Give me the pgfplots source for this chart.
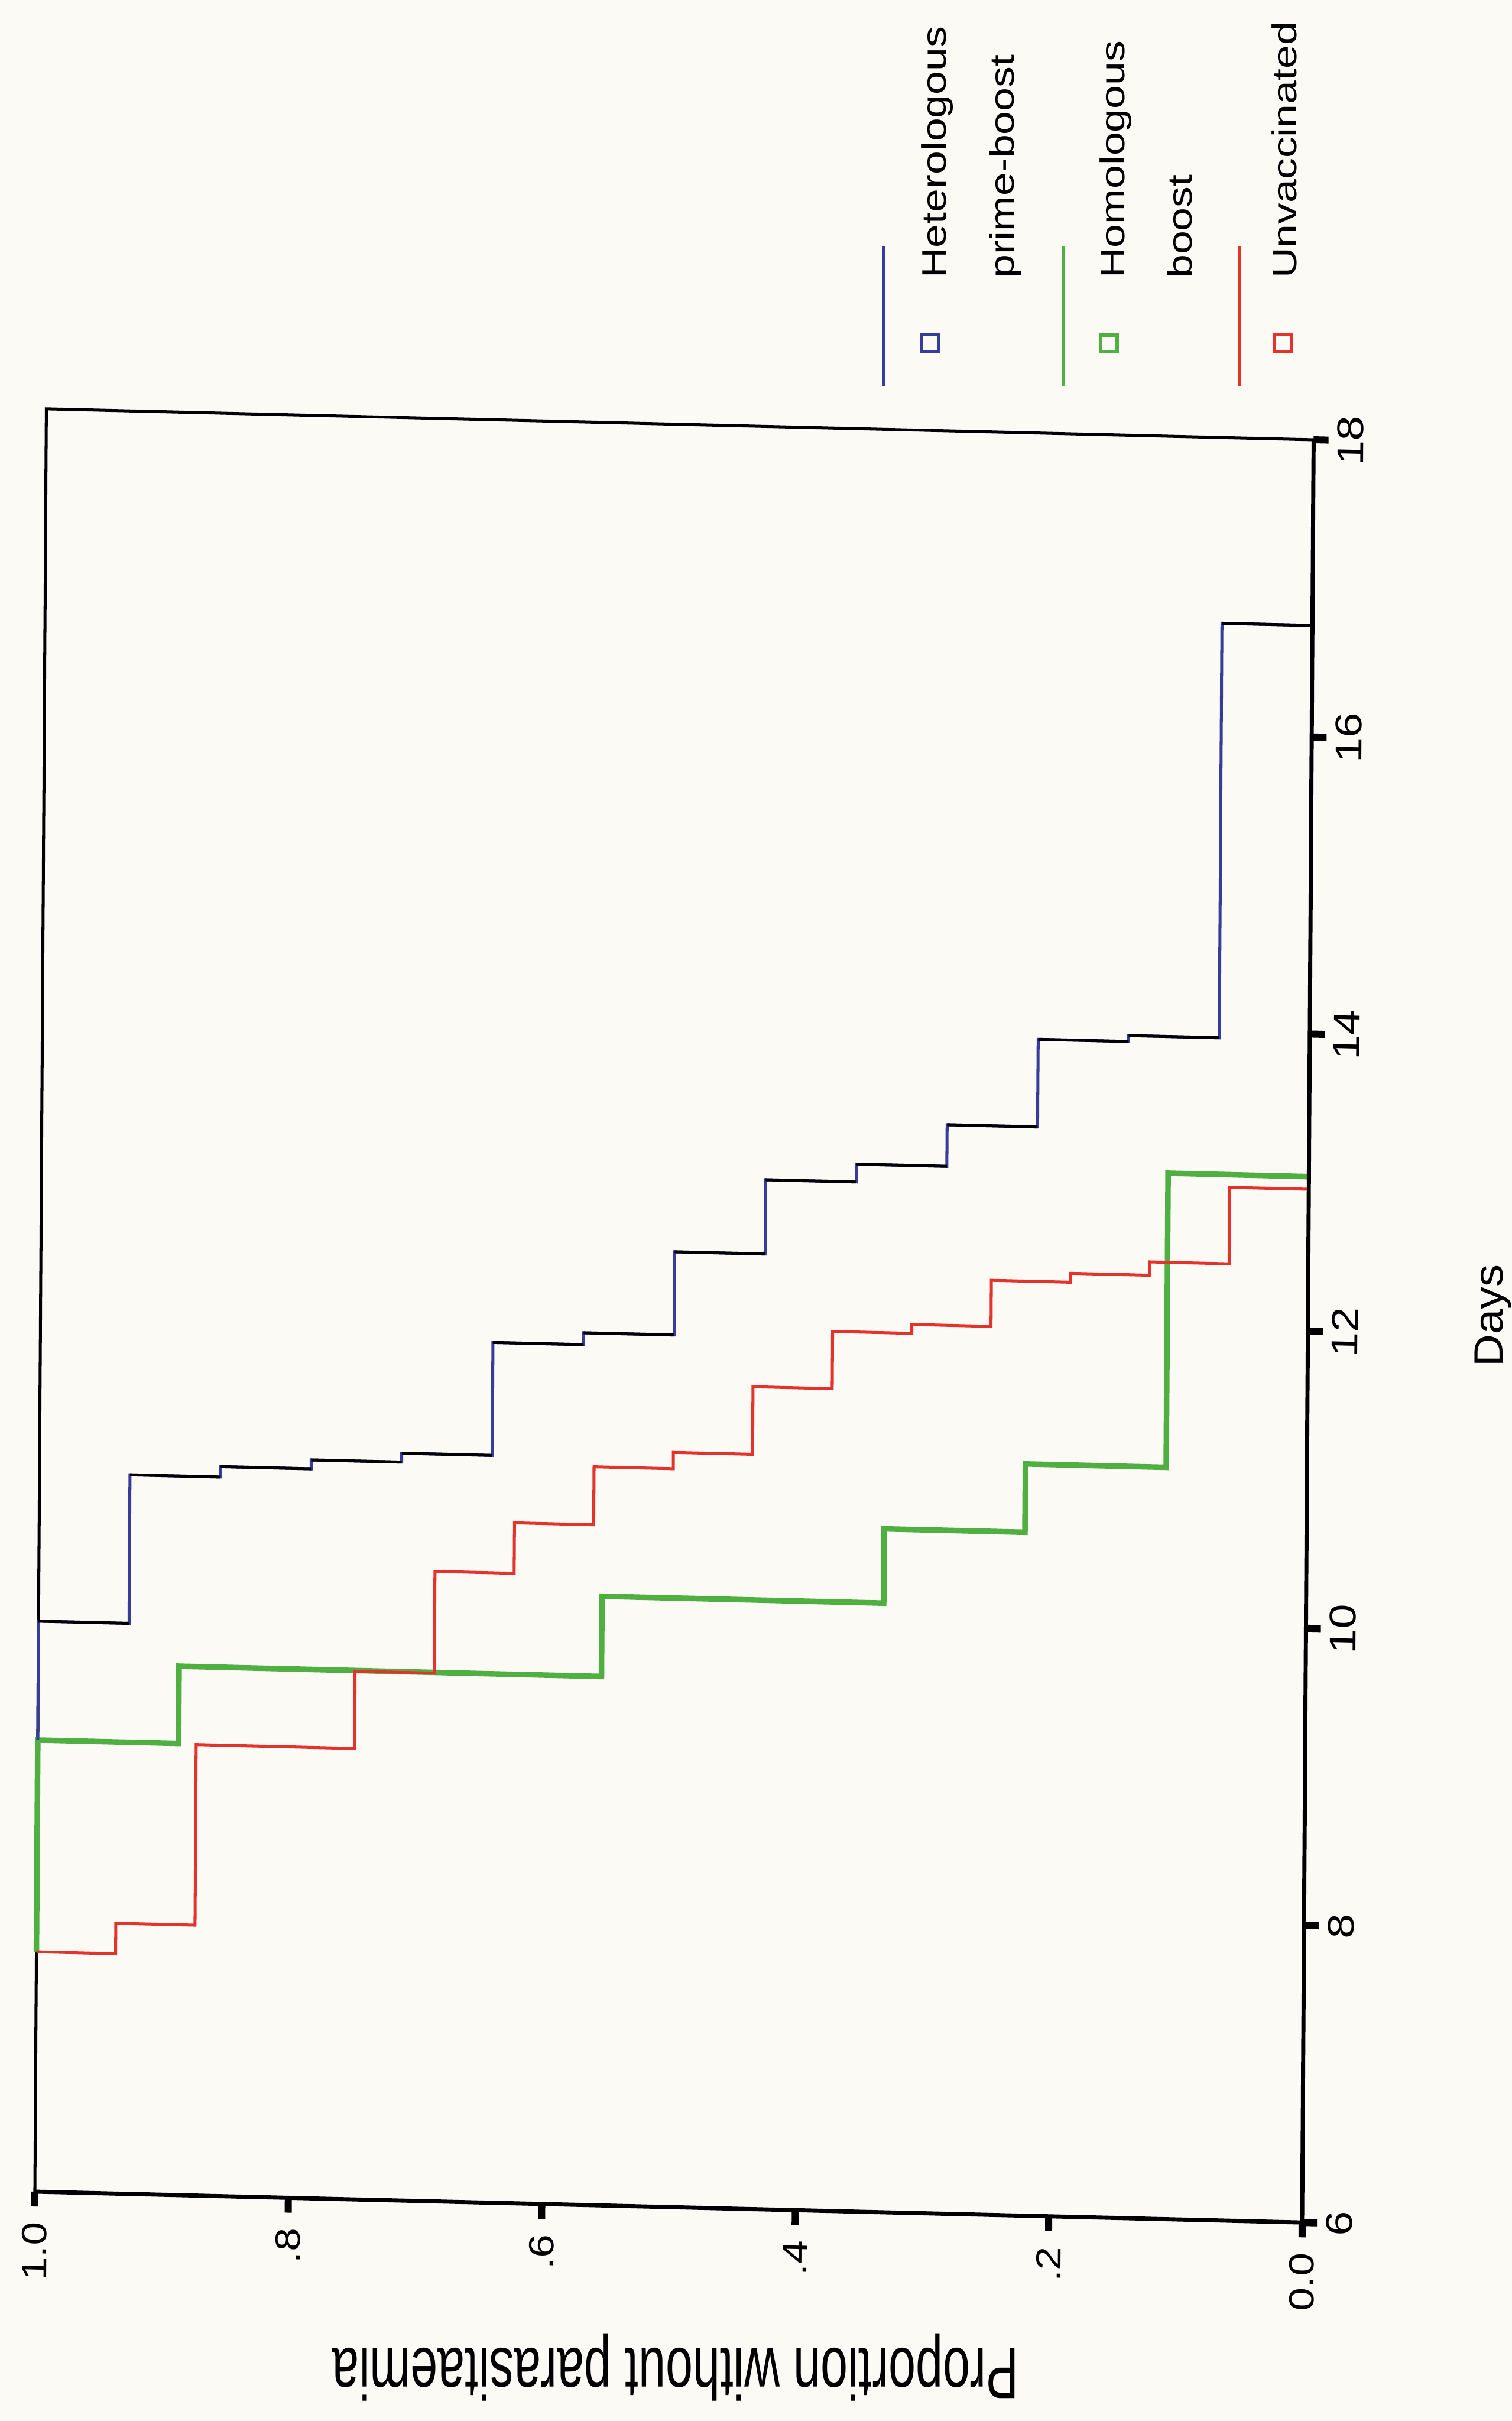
\documentclass[border=0pt]{standalone}
\usepackage{pgfplots}
\pgfplotsset{compat=1.18}
\usepackage{fontspec}
\setmainfont{Liberation Sans}
\newfontfamily\tickfont[FakeStretch=1.2]{Liberation Sans}
\newfontfamily\legfont[FakeStretch=1.24]{Liberation Sans}
\newfontfamily\dayfont[FakeStretch=1.1]{Liberation Sans}
\newfontfamily\ylabfont[FakeStretch=0.675]{Liberation Sans}
\definecolor{kmblue}{RGB}{55,60,155}
\definecolor{kmred}{RGB}{228,50,45}
\definecolor{kmgreen}{RGB}{80,175,65}
\definecolor{paper}{RGB}{251,250,245}
\begin{document}
\begin{tikzpicture}
\path[fill=paper, use as bounding box] (0,0) rectangle (407.4pt,652.4pt);
\begin{scope}[cm={1.0023,-0.0244,0.00645,1.0,(-2.0pt,4.47pt)}]
\begin{axis}[
  at={(11.0pt,57.6pt)}, anchor=south west,
  width=340.7pt, height=480.4pt, scale only axis,
  x dir=reverse,
  xmin=0, xmax=1, ymin=6, ymax=18,
  clip=false,
  axis line style={black, line width=0.8pt},
  xtick={0,0.2,0.4,0.6,0.8,1},
  xticklabels={0.0,.2,.4,.6,.8,1.0},
  ytick={6,8,10,12,14,16,18},
  yticklabels={6,8,10,12,14,16,18},
  xtick pos=bottom, xticklabel pos=bottom,
  ytick pos=right, yticklabel pos=right,
  tick align=outside,
  major tick length=4.0pt,
  every tick/.style={black, line width=1.9pt},
  xticklabel style={font=\tickfont\fontsize{9.4pt}{11pt}\selectfont, yshift=-4pt, rotate=90, anchor=east, inner sep=0pt},
  yticklabel style={font=\tickfont\fontsize{10pt}{12pt}\selectfont, xshift=9.4pt, rotate=90, anchor=base, inner sep=0pt},
]
% Homologous boost (n = 9)
\addplot[kmgreen, line width=1.5pt, const plot mark right] coordinates {
 (1,7.615) (0.8889,9.04) (0.5556,9.56) (0.3333,10.10) (0.2222,10.60) (0.1111,11.06) (0,13.04)};
% Unvaccinated (n = 16)
\addplot[kmred, line width=0.8pt, const plot mark right] coordinates {
 (1,7.615) (0.9375,7.615) (0.875,7.82) (0.75,9.035) (0.6875,9.555) (0.625,10.24)
 (0.5625,10.58) (0.5,10.97) (0.4375,11.08) (0.375,11.535) (0.3125,11.92) (0.25,11.98)
 (0.1875,12.29) (0.125,12.35) (0.0625,12.44) (0,12.955)};
% Heterologous prime-boost (n = 14)
\addplot[kmblue, line width=0.8pt, const plot mark right] coordinates {
 (1,9.04) (0.9286,9.84) (0.8571,10.84) (0.7857,10.91) (0.7143,10.97) (0.6429,11.03)
 (0.5714,11.79) (0.5,11.87) (0.4286,12.43) (0.3571,12.93) (0.2857,13.05) (0.2143,13.33)
 (0.1429,13.92) (0.0714,13.96) (0,16.75)};
\addplot[black, line width=0.8pt, jump mark left] coordinates {
 (1,9.84) (0.9286,10.84) (0.8571,10.91) (0.7857,10.97) (0.7143,11.03) (0.6429,11.79)
 (0.5714,11.87) (0.5,12.43) (0.4286,12.93) (0.3571,13.05) (0.2857,13.33) (0.2143,13.92)
 (0.1429,13.96) (0.0714,16.75) (0,16.75)};
\draw[black, line width=1.1pt] (axis cs:1,6) -- (axis cs:0,6) -- (axis cs:0,18);
\end{axis}
\end{scope}
% legend
\draw[kmblue, line width=0.8pt] (238.0pt,548.4pt) -- (238.0pt,586.2pt);
\draw[kmblue, line width=0.8pt] (248.45pt,557.65pt) rectangle ++(4.5pt,4.5pt);
\node[rotate=90, anchor=base west, inner sep=0pt, font=\legfont\fontsize{9.2pt}{11pt}\selectfont] at (254.9pt,577.2pt) {Heterologous};
\node[rotate=90, anchor=base west, inner sep=0pt, font=\legfont\fontsize{9.2pt}{11pt}\selectfont] at (273.2pt,577.2pt) {prime-boost};
\draw[kmgreen, line width=0.8pt] (286.6pt,548.4pt) -- (286.6pt,586.2pt);
\draw[kmgreen, line width=1pt] (296.55pt,557.65pt) rectangle ++(4.5pt,4.5pt);
\node[rotate=90, anchor=base west, inner sep=0pt, font=\legfont\fontsize{9.2pt}{11pt}\selectfont] at (303.0pt,577.2pt) {Homologous};
\node[rotate=90, anchor=base west, inner sep=0pt, font=\legfont\fontsize{9.2pt}{11pt}\selectfont] at (321.2pt,577.2pt) {boost};
\draw[kmred, line width=0.8pt] (334.0pt,548.4pt) -- (334.0pt,586.2pt);
\draw[kmred, line width=0.8pt] (343.45pt,557.65pt) rectangle ++(4.5pt,4.5pt);
\node[rotate=90, anchor=base west, inner sep=0pt, font=\legfont\fontsize{9.2pt}{11pt}\selectfont] at (349.4pt,577.2pt) {Unvaccinated};
% axis titles
\node[rotate=90, anchor=base, inner sep=0pt, font=\dayfont\fontsize{11pt}{13pt}\selectfont] at (404.9pt,297.9pt) {Days};
\node[rotate=180, anchor=base, inner sep=0pt, font=\ylabfont\fontsize{19.5pt}{22pt}\selectfont] at (182pt,19.5pt) {Proportion without parasitaemia};
\end{tikzpicture}
\end{document}
